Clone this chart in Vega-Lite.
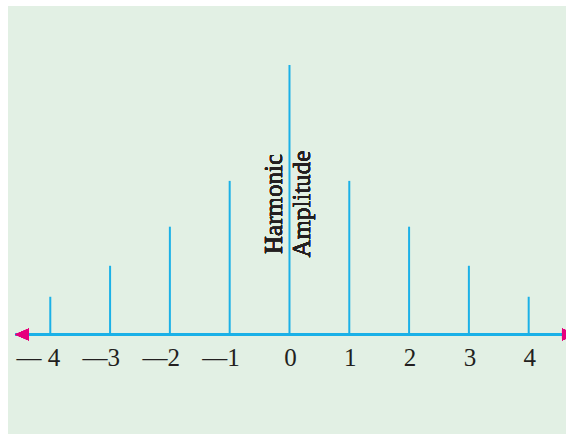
{
  "$schema": "https://vega.github.io/schema/vega-lite/v6.json",
  "width": 558,
  "height": 428,
  "autosize": {"type": "none"},
  "padding": {"left": 8, "top": 6, "right": 0, "bottom": 0},
  "background": "white",
  "config": {"view": {"stroke": null, "fill": "#e2f0e4"}, "text": {"font": "Liberation Serif, Times New Roman, serif", "fontWeight": "normal"}},
  "data": {
    "values": [
      {"harmonic": -4, "amplitude": 1.4, "label": "— 4"},
      {"harmonic": -3, "amplitude": 2.55, "label": "—3"},
      {"harmonic": -2, "amplitude": 4.0, "label": "—2"},
      {"harmonic": -1, "amplitude": 5.7, "label": "—1"},
      {"harmonic": 0, "amplitude": 10, "label": "0"},
      {"harmonic": 1, "amplitude": 5.7, "label": "1"},
      {"harmonic": 2, "amplitude": 4.0, "label": "2"},
      {"harmonic": 3, "amplitude": 2.55, "label": "3"},
      {"harmonic": 4, "amplitude": 1.4, "label": "4"}
    ]
  },
  "layer": [
    {
      "mark": {"type": "rule", "color": "#1bb1e7", "strokeWidth": 2},
      "encoding": {
        "x": {"field": "harmonic", "type": "quantitative", "scale": {"domain": [-4.707, 4.624], "nice": false, "zero": false}, "axis": null},
        "y": {"field": "amplitude", "type": "quantitative", "scale": {"domain": [-3.692, 12.189], "nice": false, "zero": false}, "axis": null},
        "y2": {"datum": 0}
      }
    },
    {
      "mark": {"type": "rule", "color": "#1bb1e7", "strokeWidth": 2.5},
      "encoding": {
        "x": {"datum": -4.59, "type": "quantitative"},
        "x2": {"datum": 4.68},
        "y": {"datum": 0, "type": "quantitative"}
      }
    },
    {
      "mark": {"type": "point", "shape": "M -1 0 L 1 -0.86 L 1 0.86 Z", "filled": true, "color": "#e6007e", "opacity": 1, "size": 196},
      "encoding": {
        "x": {"datum": -4.473, "type": "quantitative"},
        "y": {"datum": 0, "type": "quantitative"}
      }
    },
    {
      "mark": {"type": "point", "shape": "M 1 0 L -1 -0.86 L -1 0.86 Z", "filled": true, "color": "#e6007e", "opacity": 1, "size": 196},
      "encoding": {
        "x": {"datum": 4.674, "type": "quantitative"},
        "y": {"datum": 0, "type": "quantitative"}
      }
    },
    {
      "transform": [{"filter": "datum.harmonic < 0"}],
      "mark": {"type": "text", "fontSize": 25, "color": "#231f20", "align": "right", "baseline": "alphabetic", "dx": 10, "dy": 32},
      "encoding": {
        "x": {"field": "harmonic", "type": "quantitative"},
        "y": {"datum": 0, "type": "quantitative"},
        "text": {"field": "label"}
      }
    },
    {
      "transform": [{"filter": "datum.harmonic >= 0"}],
      "mark": {"type": "text", "fontSize": 25, "color": "#231f20", "align": "center", "baseline": "alphabetic", "dx": 1, "dy": 32},
      "encoding": {
        "x": {"field": "harmonic", "type": "quantitative"},
        "y": {"datum": 0, "type": "quantitative"},
        "text": {"field": "label"}
      }
    },
    {
      "mark": {"type": "text", "fontSize": 25, "color": "#231f20", "align": "center", "baseline": "alphabetic", "angle": 270, "dy": -7.5, "text": "Harmonic"},
      "encoding": {
        "x": {"datum": 0, "type": "quantitative"},
        "y": {"datum": 4.842, "type": "quantitative"}
      }
    },
    {
      "mark": {"type": "text", "fontSize": 25, "color": "#231f20", "align": "center", "baseline": "alphabetic", "angle": 270, "dy": 20.5, "text": "Amplitude"},
      "encoding": {
        "x": {"datum": 0, "type": "quantitative"},
        "y": {"datum": 4.842, "type": "quantitative"}
      }
    }
  ]
}
